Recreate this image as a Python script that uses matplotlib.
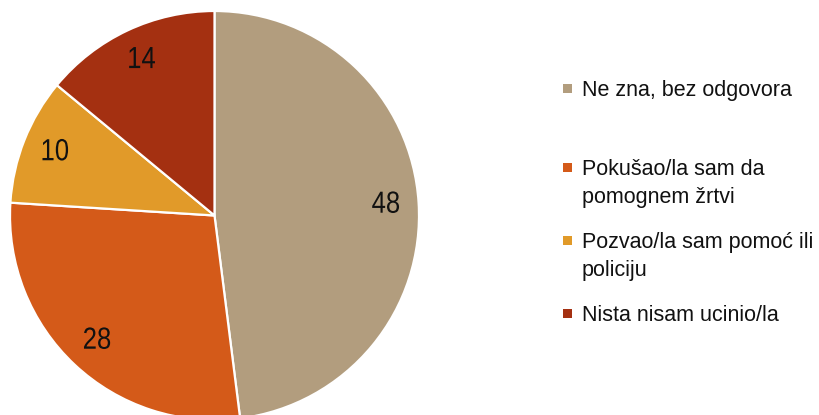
import matplotlib
matplotlib.use("Agg")
import matplotlib.pyplot as plt
from matplotlib.patches import Rectangle
from matplotlib.patheffects import AbstractPathEffect
from matplotlib.transforms import Affine2D

categories = ["Ne zna, bez odgovora", "Pokušao/la sam da\npomognem žrtvi",
              "Pozvao/la sam pomoć ili\npoliciju", "Nista nisam ucinio/la"]
values = [48, 28, 10, 14]
colors = ["#B29D7E", "#D45A19", "#E19A29", "#A43011"]

plt.rcParams["font.family"] = ["Liberation Sans", "DejaVu Sans"]


class Narrow(AbstractPathEffect):
    """Horizontally condense text (emulates a narrow font)."""
    def __init__(self, sx=0.84):
        super().__init__()
        self.sx = sx

    def draw_path(self, renderer, gc, tpath, affine, rgbFace=None):
        ext = tpath.get_extents()
        mx = (ext.x0 + ext.x1) / 2
        t = Affine2D().translate(-mx, 0).scale(self.sx, 1).translate(mx, 0) + affine
        renderer.draw_path(gc, tpath, t, rgbFace)


W, H = 820, 415
fig = plt.figure(figsize=(W / 100, H / 100), dpi=100)
cx, cy, r = 214.5, 215.5, 204.5
ax = fig.add_axes([(cx - r) / W, (H - cy - r) / H, 2 * r / W, 2 * r / H])
wedges, texts = ax.pie(values, colors=colors, startangle=90, counterclock=False,
                       labels=[str(v) for v in values], labeldistance=0.84,
                       wedgeprops=dict(edgecolor="white", linewidth=1.6),
                       textprops=dict(fontsize=22, color="#111111",
                                      ha="center", va="center"))
for t in texts:
    t.set_path_effects([Narrow(0.84)])
ax.set_xlim(-1, 1)
ax.set_ylim(-1, 1)
ax.set_aspect("equal")
ax.axis("off")

# legend (first-line baselines in px from top, line step 28 px)
leg_base = [96, 175, 248, 321]
step = 28
for lab, col, yb in zip(categories, colors, leg_base):
    fig.patches.append(Rectangle((563 / W, (H - yb + 3) / H), 9 / W, 9 / H,
                                 transform=fig.transFigure, facecolor=col, edgecolor="none"))
    for i, line in enumerate(lab.split("\n")):
        fig.text(582 / W, (H - yb - i * step) / H, line, fontsize=15.5, color="#111111",
                 ha="left", va="baseline")

fig.savefig("out.png", dpi=100)
